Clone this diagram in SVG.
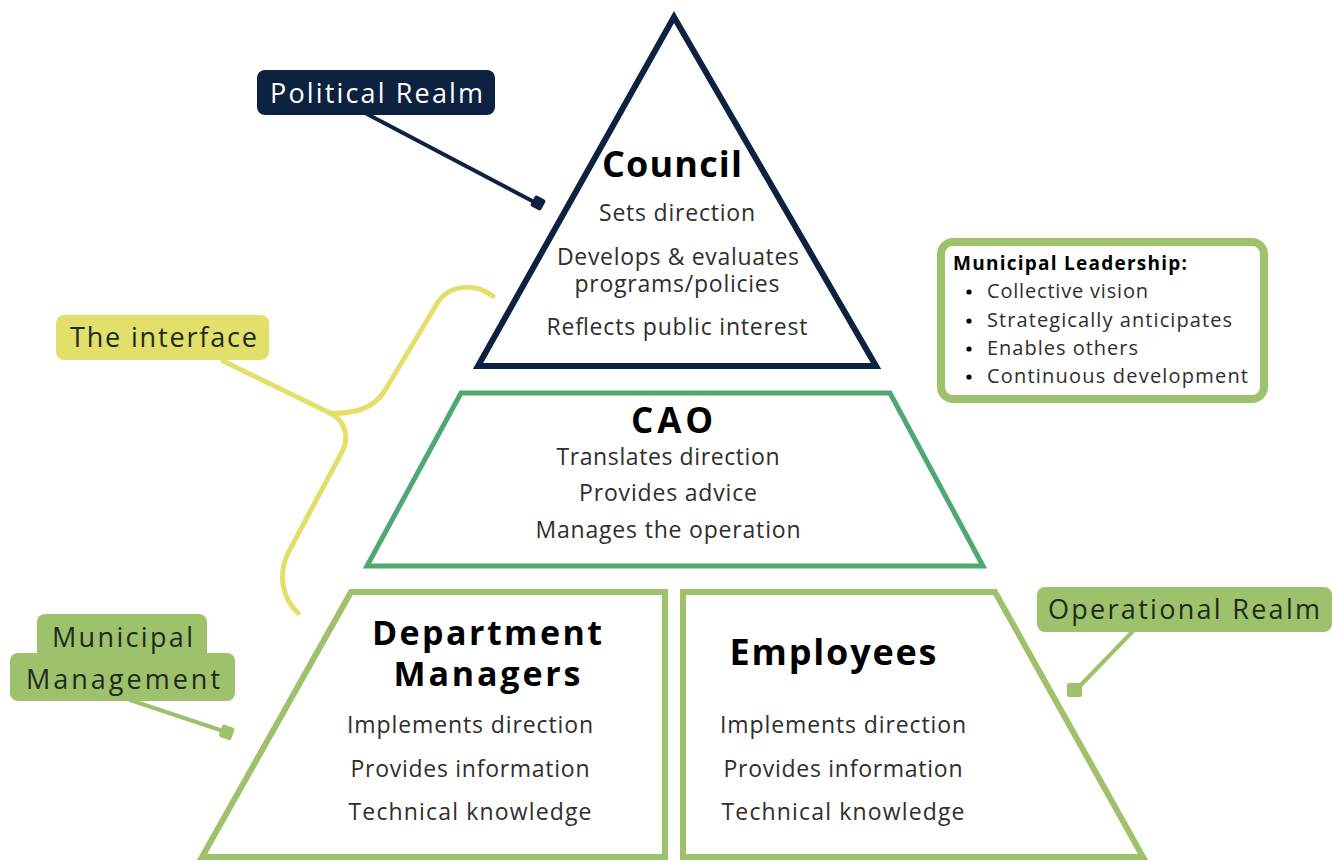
<svg xmlns="http://www.w3.org/2000/svg" width="1333" height="861" viewBox="0 0 1333 861">
<style>
text{font-family:"Open Sans","Liberation Sans",sans-serif;}
.h{font-weight:700;fill:#000;text-anchor:middle;}
.b{fill:#2e2e2e;font-size:23px;text-anchor:middle;}
.lbl{font-size:27px;fill:#1f2a1f;}
.li{fill:#2e2e2e;font-size:20px;}
</style>
<rect width="1333" height="861" fill="#ffffff"/>
<g id="connectors" fill="none" stroke-linecap="round">
  <line x1="367" y1="114" x2="536" y2="203" stroke="#0d2240" stroke-width="4"/>
  <rect x="532" y="197" width="12" height="12" rx="2" fill="#0d2240" transform="rotate(28 538 203)"/>
  <path d="M493,296 C478,285 452,282 438,302 L384,392 C372,410 352,414 330,413 M330,413 C345,420 350,437 342,452 L288,553 C278,575 282,598 298,613" stroke="#e2df6a" stroke-width="5"/>
  <line x1="223" y1="361" x2="330" y2="413" stroke="#e2df6a" stroke-width="5"/>
  <line x1="130" y1="700" x2="226" y2="732" stroke="#9dc26b" stroke-width="4"/>
  <rect x="220" y="726" width="13" height="13" rx="2" fill="#9dc26b" transform="rotate(20 227 733)"/>
  <line x1="1134" y1="630" x2="1077" y2="689" stroke="#9dc26b" stroke-width="4"/>
  <rect x="1067" y="683" width="15" height="14" rx="2" fill="#9dc26b"/>
</g>
<g id="council">
  <polygon points="674,17 478,366 876,366" fill="#fff" stroke="#0d2240" stroke-width="6" stroke-linejoin="miter"/>
  <text class="h" x="672" y="177" font-size="36" textLength="140">Council</text>
  <text class="b" x="677" y="221" textLength="156">Sets direction</text>
  <text class="b" x="678" y="265" font-size="22" textLength="242">Develops &amp; evaluates</text>
  <text class="b" x="677" y="292" font-size="22" textLength="205">programs/policies</text>
  <text class="b" x="677" y="335" textLength="261">Reflects public interest</text>
</g>
<g id="cao">
  <polygon points="461,393 890,393 983,566 367,566" fill="#fff" stroke="#4fa872" stroke-width="5"/>
  <text class="h" x="672" y="433" font-size="35" textLength="82">CAO</text>
  <text class="b" x="668" y="465" textLength="223">Translates direction</text>
  <text class="b" x="668" y="501" textLength="178">Provides advice</text>
  <text class="b" x="668" y="538" textLength="265">Manages the operation</text>
</g>
<g id="department-managers">
  <polygon points="351,592 665,592 665,857 202,857" fill="#fff" stroke="#9dc26b" stroke-width="6"/>
  <text class="h" x="487" y="645" font-size="34" textLength="230">Department</text>
  <text class="h" x="487" y="686" font-size="34" textLength="187">Managers</text>
  <text class="b" x="470" y="733" textLength="246">Implements direction</text>
  <text class="b" x="470" y="777" textLength="239">Provides information</text>
  <text class="b" x="470" y="820" textLength="243">Technical knowledge</text>
</g>
<g id="employees">
  <polygon points="683,592 995,592 1143,857 683,857" fill="#fff" stroke="#9dc26b" stroke-width="6"/>
  <text class="h" x="833" y="665" font-size="36" textLength="207">Employees</text>
  <text class="b" x="843" y="733" textLength="246">Implements direction</text>
  <text class="b" x="843" y="777" textLength="239">Provides information</text>
  <text class="b" x="843" y="820" textLength="243">Technical knowledge</text>
</g>
<g id="political-realm">
  <rect x="257" y="70" width="238" height="45" rx="8" fill="#0d2240"/>
  <text x="270" y="103" font-size="27" fill="#ffffff" textLength="213">Political Realm</text>
</g>
<g id="the-interface">
  <rect x="56" y="315" width="213" height="45" rx="8" fill="#e2df6a"/>
  <text class="lbl" x="70" y="347" textLength="187">The interface</text>
</g>
<g id="municipal-management">
  <rect x="37" y="614" width="170" height="50" rx="8" fill="#9dc26b"/>
  <rect x="10" y="653" width="225" height="48" rx="8" fill="#9dc26b"/>
  <text class="lbl" x="52" y="647" textLength="141">Municipal</text>
  <text class="lbl" x="26" y="689" textLength="194">Management</text>
</g>
<g id="operational-realm">
  <rect x="1037" y="587" width="295" height="45" rx="8" fill="#9dc26b"/>
  <text class="lbl" x="1048" y="619" textLength="272">Operational Realm</text>
</g>
<g id="municipal-leadership">
  <rect x="941" y="242" width="323" height="157" rx="12" fill="#fff" stroke="#9dc26b" stroke-width="8"/>
  <text x="953" y="270" font-size="19" font-weight="700" fill="#000" textLength="234">Municipal Leadership:</text>
  <circle cx="969" cy="292" r="2.6" fill="#000"/>
  <circle cx="969" cy="321" r="2.6" fill="#000"/>
  <circle cx="969" cy="349" r="2.6" fill="#000"/>
  <circle cx="969" cy="377" r="2.6" fill="#000"/>
  <text class="li" x="987" y="298" textLength="161">Collective vision</text>
  <text class="li" x="987" y="327" textLength="245">Strategically anticipates</text>
  <text class="li" x="987" y="355" textLength="151">Enables others</text>
  <text class="li" x="987" y="383" textLength="261">Continuous development</text>
</g>
</svg>
